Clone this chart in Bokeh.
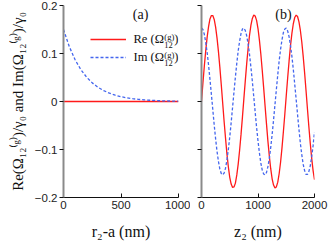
from bokeh.plotting import figure
from bokeh.layouts import row
from bokeh.models import Range1d, FixedTicker, Legend, LegendItem, Label, CustomJSTickFormatter
from bokeh.embed import file_html
from bokeh.resources import INLINE

# ---------------- data ----------------
# panel (a): distance r2-a (nm)
r_nm = [0, 50, 100, 150, 200, 250, 300, 350, 400, 450, 500, 550, 600, 650,
        700, 750, 800, 850, 900, 950, 1000]
re_a = [0.0] * len(r_nm)
im_a = [0.150, 0.1145, 0.0874, 0.0667, 0.0509, 0.0388, 0.0296, 0.0226, 0.0173,
        0.0132, 0.0100, 0.0077, 0.0059, 0.0045, 0.0034, 0.0026, 0.0020, 0.0015,
        0.0011, 0.0009, 0.0007]

# panel (b): z2 (nm), every 25 nm
z_nm = [i * 25 for i in range(81)]
re_b = [0.000, 0.038, 0.074, 0.106, 0.134, 0.156, 0.172, 0.179, 0.179, 0.171,
        0.155, 0.132, 0.104, 0.071, 0.035, -0.003, -0.041, -0.076, -0.109, -0.136,
        -0.158, -0.172, -0.179, -0.178, -0.170, -0.153, -0.130, -0.101, -0.068, -0.032,
        0.006, 0.043, 0.079, 0.111, 0.138, 0.159, 0.173, 0.180, 0.178, 0.169,
        0.152, 0.128, 0.099, 0.065, 0.029, -0.009, -0.046, -0.082, -0.113, -0.140,
        -0.161, -0.174, -0.180, -0.178, -0.168, -0.150, -0.126, -0.096, -0.062, -0.026,
        0.012, 0.049, 0.084, 0.116, 0.142, 0.162, 0.175, 0.180, 0.177, 0.166,
        0.148, 0.124, 0.094, 0.060, 0.023, -0.015, -0.052, -0.087, -0.118, -0.144,
        -0.163]
im_b = [0.153, 0.150, 0.140, 0.123, 0.102, 0.076, 0.046, 0.015, -0.017, -0.049,
        -0.078, -0.104, -0.125, -0.141, -0.150, -0.153, -0.149, -0.139, -0.122, -0.100,
        -0.074, -0.044, -0.012, 0.020, 0.051, 0.080, 0.106, 0.126, 0.142, 0.151,
        0.153, 0.148, 0.137, 0.120, 0.098, 0.071, 0.042, 0.010, -0.022, -0.054,
        -0.082, -0.107, -0.128, -0.143, -0.151, -0.153, -0.148, -0.136, -0.119, -0.096,
        -0.069, -0.039, -0.007, 0.025, 0.056, 0.085, 0.109, 0.129, 0.144, 0.151,
        0.153, 0.147, 0.135, 0.117, 0.094, 0.067, 0.036, 0.005, -0.027, -0.058,
        -0.087, -0.111, -0.131, -0.144, -0.152, -0.152, -0.146, -0.134, -0.115, -0.092,
        -0.064]

y_ticks = [-0.2, -0.1, 0.0, 0.1, 0.2]
xa_ticks = [0, 500, 1000]
xb_ticks = [0, 1000, 2000]
legend_heads = ["Re (Ω", "Im (Ω"]
y_title = "Re(Ω₁₂⁽ᵍ⁾)/γ₀ and Im(Ω₁₂⁽ᵍ⁾)/γ₀"
xa_title = "r₂-a (nm)"
xb_title = "z₂ (nm)"

RED = "#ff1a1a"
BLUE = "#4466ee"
SERIF = "Liberation Serif"
SANS = "Liberation Sans"
INK = "#111111"


def style(p, xticks, xtitle):
    p.outline_line_color = None
    p.xgrid.visible = False
    p.ygrid.visible = False
    p.background_fill_color = "white"
    p.border_fill_color = "white"
    p.yaxis.ticker = FixedTicker(ticks=y_ticks)
    p.xaxis.ticker = FixedTicker(ticks=xticks)
    for ax in (p.xaxis[0], p.yaxis[0]):
        ax.minor_tick_line_color = None
        ax.major_label_text_font = SANS
        ax.major_label_text_font_size = "11.5px"
        ax.major_label_text_color = "#222222"
        ax.axis_label_text_font = SERIF
        ax.axis_label_text_font_style = "normal"
        ax.axis_label_text_color = INK
        ax.major_tick_line_color = INK
    p.yaxis.axis_line_color = "#8a8a8a"
    p.yaxis.axis_line_width = 2
    p.yaxis.major_tick_in = 0
    p.yaxis.major_tick_out = 4
    p.yaxis.major_label_standoff = 2
    p.xaxis.axis_line_color = INK
    p.xaxis.axis_line_width = 1
    p.xaxis.major_tick_in = 4
    p.xaxis.major_tick_out = 0
    p.xaxis.major_label_standoff = 3
    p.xaxis.axis_label = xtitle
    p.xaxis.axis_label_text_font_size = "16px"
    p.xaxis.axis_label_standoff = 11


def txt(p, x, y, s, size="13px", align="left", baseline="middle"):
    p.add_layout(Label(x=x, y=y, text=s, text_font=SERIF, text_font_size=size,
                       text_align=align, text_baseline=baseline, text_color=INK))


# ---------------- panel (a) ----------------
pa = figure(frame_width=115, frame_height=192, output_backend="svg",
            toolbar_location=None,
            x_range=Range1d(0, 1000), y_range=Range1d(-0.2, 0.2),
            min_border_left=63, min_border_right=12, min_border_top=5,
            min_border_bottom=53)
style(pa, xa_ticks, xa_title)
pa.yaxis.axis_label = y_title
pa.yaxis.axis_label_text_font_size = "15px"
pa.yaxis.axis_label_standoff = 6

ra = pa.line(r_nm, re_a, line_color=RED, line_width=1.3)
ia = pa.line(r_nm, im_a, line_color=BLUE, line_width=1.3, line_dash="3 2")

legend = Legend(items=[LegendItem(label=" ", renderers=[ra]),
                       LegendItem(label=" ", renderers=[ia])],
                location=(27, 132), orientation="vertical")
legend.background_fill_alpha = 0
legend.border_line_alpha = 0
legend.padding = 0
legend.margin = 0
legend.spacing = 2
legend.glyph_width = 36
legend.glyph_height = 16
legend.label_height = 16
legend.label_standoff = 0
legend.label_text_font_size = "10px"
pa.add_layout(legend, "center")

# legend texts, with stacked super/subscripts
for head, yc, ysup, ysub in ((legend_heads[0], 0.1292, 0.1354, 0.1167),
                             (legend_heads[1], 0.0917, 0.0979, 0.0792)):
    txt(pa, 609, yc, head, size="12.5px")
    txt(pa, 877, ysup, "(g)", size="8.5px")
    txt(pa, 877, ysub, "12", size="8.5px")
    txt(pa, 964, yc, ")", size="12.5px")

txt(pa, 670, 0.181, "(a)", size="14px", align="center")

# ---------------- panel (b) ----------------
pb = figure(frame_width=113, frame_height=192, output_backend="svg",
            toolbar_location=None,
            x_range=Range1d(0, 2000), y_range=Range1d(-0.2, 0.2),
            min_border_left=11, min_border_right=15, min_border_top=5,
            min_border_bottom=53)
style(pb, xb_ticks, xb_title)
pb.yaxis.formatter = CustomJSTickFormatter(code="return '';")
pb.yaxis.major_label_standoff = 0

pb.line(z_nm, re_b, line_color=RED, line_width=1.3)
pb.line(z_nm, im_b, line_color=BLUE, line_width=1.3, line_dash="3 2")
txt(pb, 1451, 0.181, "(b)", size="14px", align="center")

layout = row(pa, pb)
open("out.html", "w").write(file_html(layout, INLINE))
